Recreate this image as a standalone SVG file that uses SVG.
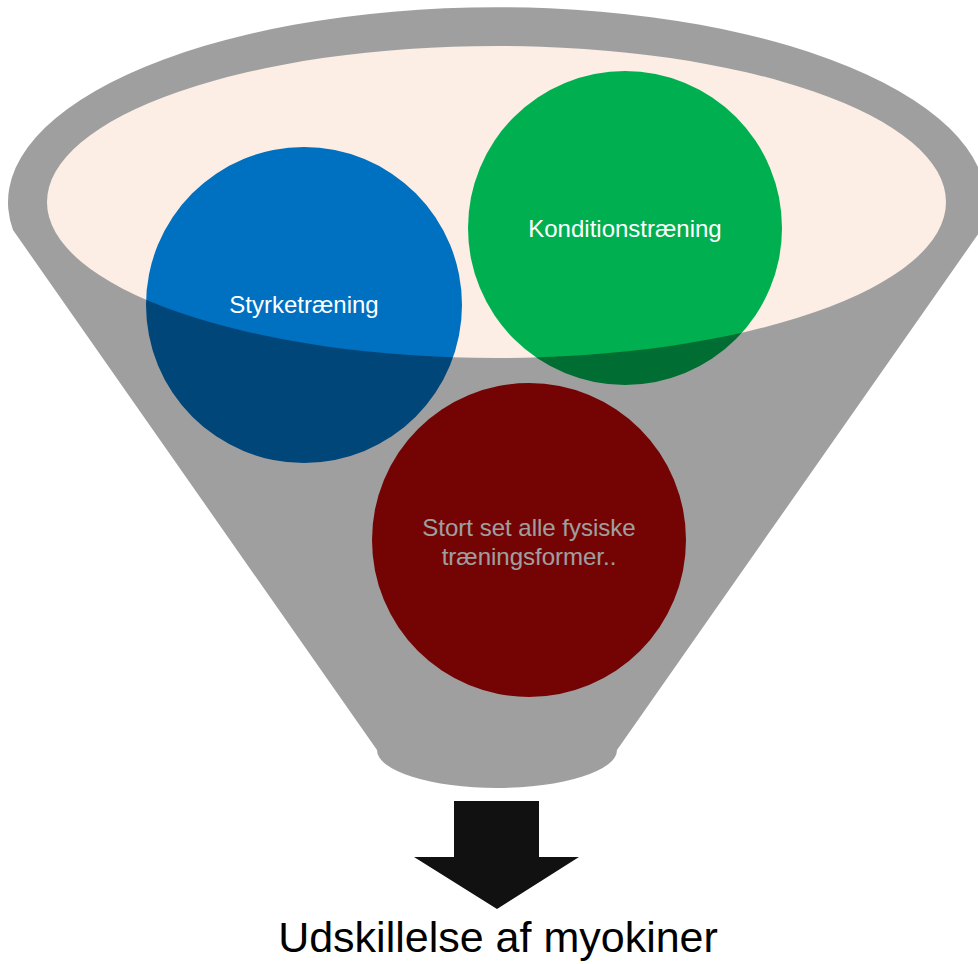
<svg xmlns="http://www.w3.org/2000/svg" width="978" height="964" viewBox="0 0 978 964">
  <style>
    .lbl { font-family: "Gill Sans", "Liberation Sans", Arial, sans-serif; font-size: 24px; fill: #ffffff; text-anchor: middle; }
    .caption { font-family: "Gill Sans", "Liberation Sans", Arial, sans-serif; font-size: 43px; fill: #000000; text-anchor: middle; }
  </style>
  <rect x="0" y="0" width="978" height="964" fill="#ffffff"/>

  <!-- mouth of the funnel -->
  <g id="funnel-mouth">
    <ellipse cx="496.5" cy="202" rx="449.5" ry="156" fill="#FCEEE4"/>
  </g>

  <!-- training types -->
  <g id="node-styrketraening">
    <circle cx="304" cy="305" r="158" fill="#0070C0"/>
    <text class="lbl" x="304" y="313">Styrketræning</text>
  </g>
  <g id="node-konditionstraening">
    <circle cx="625" cy="228" r="157" fill="#00B050"/>
    <text class="lbl" x="625" y="237">Konditionstræning</text>
  </g>
  <g id="node-alle-former">
    <circle cx="529" cy="540" r="157" fill="#BA0606"/>
    <text class="lbl" x="529" y="536">Stort set alle fysiske</text>
    <text class="lbl" x="529" y="565">træningsformer..</text>
  </g>

  <!-- translucent funnel body over everything outside the mouth -->
  <g id="funnel-body">
    <path fill="#000000" fill-opacity="0.376" fill-rule="evenodd"
      d="M 13 230 A 489 195 0 1 1 981 230 L 617 750 A 120 38 0 0 1 377 750 Z
         M 47 202 A 449.5 156 0 1 0 946 202 A 449.5 156 0 1 0 47 202 Z"/>
  </g>

  <!-- output arrow -->
  <g id="connectors">
    <path fill="#111111" d="M 454 801 L 539 801 L 539 857 L 579 857 L 497 909 L 414 857 L 454 857 Z"/>
  </g>

  <g id="node-myokiner">
    <text class="caption" x="498" y="952">Udskillelse af myokiner</text>
  </g>
</svg>
